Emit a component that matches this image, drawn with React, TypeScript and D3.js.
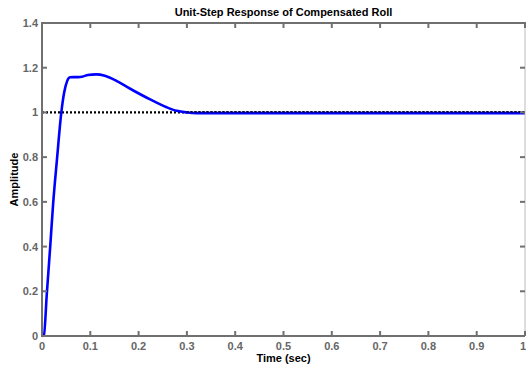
import React, { useEffect, useRef } from 'react';
import * as d3 from 'd3';

// step response samples
const timeSec = [0, 0.004, 0.01, 0.017, 0.023, 0.031, 0.04, 0.046, 0.052, 0.058, 0.065, 0.075, 0.083, 0.095, 0.112, 0.13, 0.155, 0.175, 0.19, 0.224, 0.258, 0.279, 0.3, 0.32, 0.35, 1.0];
const amplitude = [0, 0.005, 0.19, 0.4, 0.59, 0.79, 1.0, 1.09, 1.14, 1.157, 1.158, 1.158, 1.16, 1.167, 1.17, 1.164, 1.14, 1.115, 1.097, 1.058, 1.023, 1.007, 1.0, 0.997, 0.997, 0.997];
const xTicks = [0, 0.1, 0.2, 0.3, 0.4, 0.5, 0.6, 0.7, 0.8, 0.9, 1];
const yTicks = [0, 0.2, 0.4, 0.6, 0.8, 1, 1.2, 1.4];
const steadyState = 1;

const App = () => {
  const ref = useRef<SVGSVGElement>(null);

  useEffect(() => {
    const svg = d3.select(ref.current);
    svg.selectAll('*').remove();

    const W = 526, H = 366;
    const m = { top: 23, right: 1, bottom: 30, left: 42 };
    const x = d3.scaleLinear().domain([0, 1]).range([m.left, W - m.right]);
    const y = d3.scaleLinear().domain([0, 1.4]).range([H - m.bottom, m.top]);
    const axisColor = '#707070';
    const font = 'Arial, "Liberation Sans", Helvetica, sans-serif';

    // reference line
    svg.append('line')
      .attr('x1', x(0)).attr('x2', x(1))
      .attr('y1', y(steadyState)).attr('y2', y(steadyState))
      .attr('stroke', '#000').attr('stroke-width', 2.2)
      .attr('stroke-dasharray', '2,2');

    const pts = timeSec.map((t, i) => [t, amplitude[i]] as [number, number]);
    const line = d3.line<[number, number]>()
      .x(d => x(d[0]))
      .y(d => y(d[1]))
      .curve(d3.curveMonotoneX);

    svg.append('path')
      .datum(pts)
      .attr('fill', 'none')
      .attr('stroke', '#0000ff')
      .attr('stroke-width', 2.6)
      .attr('d', line);

    // dotted line again on top where the curve sits under it
    svg.append('line')
      .attr('x1', x(0.3)).attr('x2', x(1))
      .attr('y1', y(steadyState) - 0.5).attr('y2', y(steadyState) - 0.5)
      .attr('stroke', '#000').attr('stroke-width', 1.4)
      .attr('stroke-dasharray', '2,2');

    // box
    const g = svg.append('g').attr('stroke', axisColor).attr('stroke-width', 2).attr('fill', 'none');
    g.append('line').attr('x1', x(0)).attr('x2', x(1)).attr('y1', y(0)).attr('y2', y(0));
    g.append('line').attr('x1', x(0)).attr('x2', W).attr('y1', y(1.4)).attr('y2', y(1.4));
    g.append('line').attr('x1', x(0)).attr('x2', x(0)).attr('y1', y(0) + 1).attr('y2', y(1.4) - 1);
    g.append('line').attr('x1', x(1)).attr('x2', x(1)).attr('y1', y(0)).attr('y2', y(1.4)).attr('stroke-width', 1).attr('stroke', '#bbb');

    xTicks.forEach(t => {
      g.append('line').attr('x1', x(t)).attr('x2', x(t)).attr('y1', y(0)).attr('y2', y(0) - 5);
      g.append('line').attr('x1', x(t)).attr('x2', x(t)).attr('y1', y(1.4)).attr('y2', y(1.4) + 5);
    });
    yTicks.forEach(v => {
      g.append('line').attr('x1', x(0)).attr('x2', x(0) + 5).attr('y1', y(v)).attr('y2', y(v));
      g.append('line').attr('x1', x(1)).attr('x2', x(1) - 5).attr('y1', y(v)).attr('y2', y(v));
    });

    // last x label sits right at the window edge, shift it in slightly
    svg.append('g').selectAll('text').data(xTicks).join('text')
      .attr('x', d => (d === 1 ? x(d) - 2 : x(d))).attr('y', y(0) + 14)
      .attr('text-anchor', 'middle')
      .attr('font-family', font).attr('font-size', 11).attr('font-weight', 'bold')
      .attr('fill', '#666')
      .text(d => d3.format('')(d));

    svg.append('g').selectAll('text').data(yTicks).join('text')
      .attr('x', x(0) - 4).attr('y', d => y(d) + 4)
      .attr('text-anchor', 'end')
      .attr('font-family', font).attr('font-size', 11).attr('font-weight', 'bold')
      .attr('fill', '#666')
      .text(d => d3.format('')(d));

    svg.append('text')
      .attr('x', (x(0) + x(1)) / 2).attr('y', 16)
      .attr('text-anchor', 'middle')
      .attr('font-family', font).attr('font-size', 11).attr('font-weight', 'bold')
      .text('Unit-Step Response of Compensated Roll');

    svg.append('text')
      .attr('x', (x(0) + x(1)) / 2).attr('y', 362)
      .attr('text-anchor', 'middle')
      .attr('font-family', font).attr('font-size', 11).attr('font-weight', 'bold')
      .text('Time (sec)');

    svg.append('text')
      .attr('transform', `translate(18,${(y(0) + y(1.4)) / 2}) rotate(-90)`)
      .attr('text-anchor', 'middle')
      .attr('font-family', font).attr('font-size', 11).attr('font-weight', 'bold')
      .text('Amplitude');
  }, []);

  return (
    <svg ref={ref} width={526} height={366}
      style={{ position: 'absolute', left: 0, top: 0, background: '#fff' }} />
  );
};

export default App;
